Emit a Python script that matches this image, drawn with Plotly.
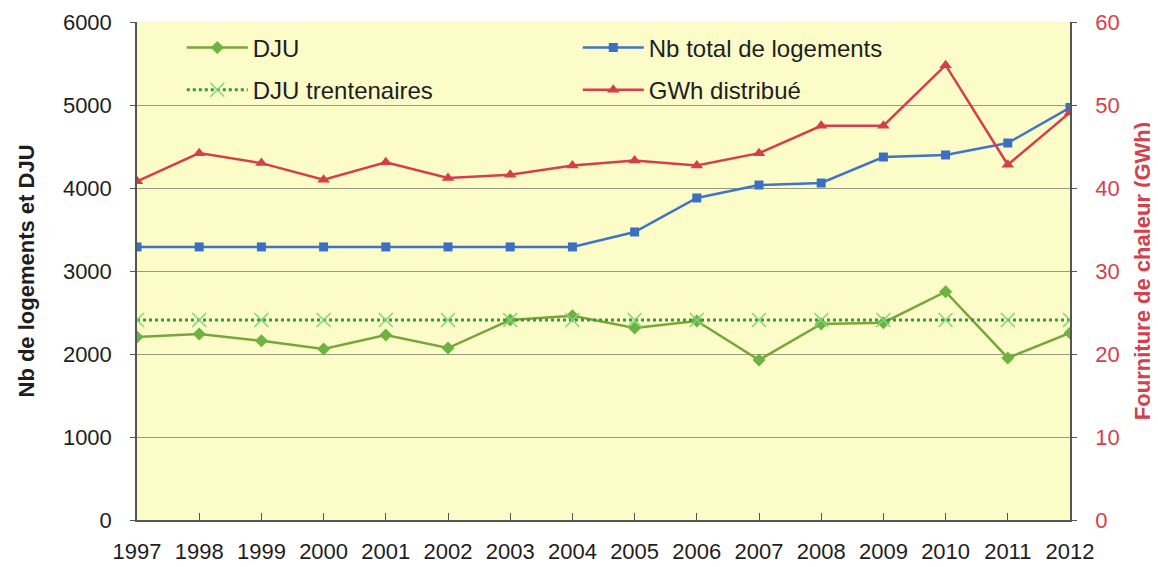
import plotly.graph_objects as go

years = list(range(1997, 2013))
dju = [2205, 2241, 2160, 2060, 2229, 2072, 2410, 2461, 2313, 2398, 1928, 2361, 2377, 2751, 1952, 2253]
dju_trent = [2410] * 16
logements = [3290, 3290, 3290, 3290, 3290, 3290, 3290, 3290, 3470, 3880, 4036, 4060, 4373, 4398, 4542, 4970]
gwh = [40.8, 44.2, 43.0, 41.0, 43.1, 41.2, 41.6, 42.7, 43.3, 42.7, 44.2, 47.5, 47.5, 54.8, 42.8, 49.1]

left_ticks = [0, 1000, 2000, 3000, 4000, 5000, 6000]
right_ticks = [0, 10, 20, 30, 40, 50, 60]

FONT = "Arial, Liberation Sans, sans-serif"
RED = "#d4414d"
DARK = "#1e1e1e"

fig = go.Figure()
fig.add_trace(go.Scatter(
    x=years, y=dju, name="DJU", mode="lines+markers",
    line=dict(color="#7aa53a", width=2.5),
    marker=dict(symbol="diamond", size=10, color="#6cb33f"),
    legend="legend"))
fig.add_trace(go.Scatter(
    x=years, y=logements, name="Nb total de logements", mode="lines+markers",
    line=dict(color="#3f74c9", width=2.5),
    marker=dict(symbol="square", size=9, color="#3a6fc4"),
    legend="legend"))
fig.add_trace(go.Scatter(
    x=years, y=dju_trent, name="DJU trentenaires", mode="lines+markers",
    line=dict(color="#2e9e3a", width=3, dash="dot"),
    marker=dict(symbol="x-thin", size=14, line=dict(color="#7fd67f", width=1.5)),
    legend="legend2"))
fig.add_trace(go.Scatter(
    x=years, y=gwh, name="GWh distribué", mode="lines+markers",
    line=dict(color="#d63f4a", width=2.5),
    marker=dict(symbol="triangle-up", size=11, color="#d63f4a"),
    yaxis="y2", legend="legend2"))

leg_common = dict(orientation="h", entrywidth=320, entrywidthmode="pixels",
                  bgcolor="rgba(0,0,0,0)", xanchor="left", yanchor="middle",
                  font=dict(family=FONT, size=24, color=DARK), itemwidth=61)

# the page body has an 8px default margin; margins below compensate for it
fig.update_layout(
    width=1150, height=559,
    margin=dict(l=129, r=88, t=14, b=47, autoexpand=False),
    paper_bgcolor="white",
    plot_bgcolor="#fcfcc8",
    font=dict(family=FONT, size=21, color=DARK),
    legend=dict(x=0.048, y=0.948, **leg_common),
    legend2=dict(x=0.048, y=0.863, **leg_common),
    xaxis=dict(
        range=[1997, 2012], tickmode="array", tickvals=years,
        ticktext=[str(y) for y in years],
        showgrid=False, zeroline=False, automargin=False,
        showline=True, linecolor="#555555", linewidth=1.5,
        ticks="inside", ticklen=7, tickcolor="#555555",
        ticklabelstandoff=11,
        tickfont=dict(family=FONT, size=22, color=DARK),
    ),
    yaxis=dict(
        range=[0, 6000], tickvals=left_ticks, automargin=False,
        showgrid=True, gridcolor="#9a9a80", gridwidth=1,
        zeroline=False, showline=True, linecolor="#555555", linewidth=1.5,
        ticks="outside", ticklen=5, tickcolor="#555555",
        ticklabelstandoff=14,
        tickfont=dict(family=FONT, size=22, color=DARK),
        title=dict(text="<b>Nb de logements et DJU</b>",
                   font=dict(family=FONT, size=22, color=DARK), standoff=22),
    ),
    yaxis2=dict(
        range=[0, 60], tickvals=right_ticks, overlaying="y", side="right",
        showgrid=False, zeroline=False, automargin=False,
        showline=True, linecolor="#555555", linewidth=1.5,
        ticks="outside", ticklen=5, tickcolor="#555555",
        ticklabelstandoff=14,
        tickfont=dict(family=FONT, size=22, color=RED),
        title=dict(text="<b>Fourniture de chaleur (GWh)</b>",
                   font=dict(family=FONT, size=22, color=RED), standoff=16),
    ),
)

fig.write_html("out.html")
